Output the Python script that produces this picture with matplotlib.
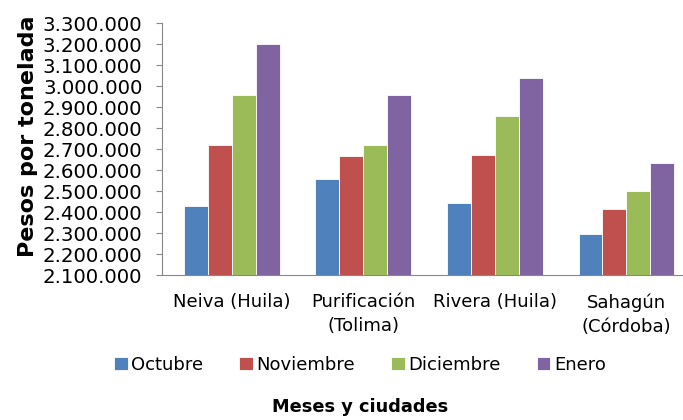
import numpy as np
import matplotlib
matplotlib.use('Agg')
import matplotlib.pyplot as plt
from matplotlib.ticker import FuncFormatter, MultipleLocator

# datos
ciudades = ['Neiva (Huila)', 'Purificación\n(Tolima)', 'Rivera (Huila)', 'Sahagún\n(Córdoba)']
meses = ['Octubre', 'Noviembre', 'Diciembre', 'Enero']
octubre = [2430000, 2558000, 2445000, 2294000]
noviembre = [2721000, 2666000, 2671000, 2415000]
diciembre = [2957000, 2720000, 2857000, 2500000]
enero = [3200000, 2957000, 3041000, 2636000]
colores = ['#4F81BD', '#C0504D', '#9BBB59', '#8064A2']

plt.rcParams['font.family'] = ['DejaVu Sans']

fig = plt.figure(figsize=(6.83, 4.2), dpi=100)
ax = fig.add_axes([0.237, 0.345, 0.763, 0.5995])

x = np.arange(len(ciudades))
ancho = 0.182
series = [octubre, noviembre, diciembre, enero]
for i, (vals, mes, col) in enumerate(zip(series, meses, colores)):
    ax.bar(x + (i - 1.5) * ancho, np.array(vals) - 2100000, ancho, bottom=2100000,
           color=col, edgecolor='white', linewidth=0.6, label=mes)

ax.set_ylim(2100000, 3300000)
ax.set_xlim(-0.53, 3.43)
ax.yaxis.set_major_locator(MultipleLocator(100000))
ax.yaxis.set_major_formatter(FuncFormatter(lambda v, p: f'{v:,.0f}'.replace(',', '.')))
ax.set_xticks(x)
ax.set_xticklabels(ciudades, multialignment='center', linespacing=1.45)
ax.tick_params(axis='x', length=0, labelsize=13, pad=13)
ax.tick_params(axis='y', length=4, color='#888888', labelsize=14.2, pad=10)

for s in ['top', 'right']:
    ax.spines[s].set_visible(False)
ax.spines['left'].set_color('#888888')
ax.spines['bottom'].set_color('#888888')

ax.set_ylabel('Pesos por tonelada', fontsize=16, fontweight='bold')
ax.yaxis.set_label_coords(-0.238, 0.552)

fig.legend(loc='center', bbox_to_anchor=(0.527, 0.131), ncol=4, frameon=False,
           fontsize=13, handlelength=0.75, handleheight=0.75, handletextpad=0.2,
           columnspacing=2.0)
fig.text(0.527, 0.031, 'Meses y ciudades', ha='center', va='center',
         fontsize=12.8, fontweight='bold')

fig.savefig('out.png', dpi=100)
